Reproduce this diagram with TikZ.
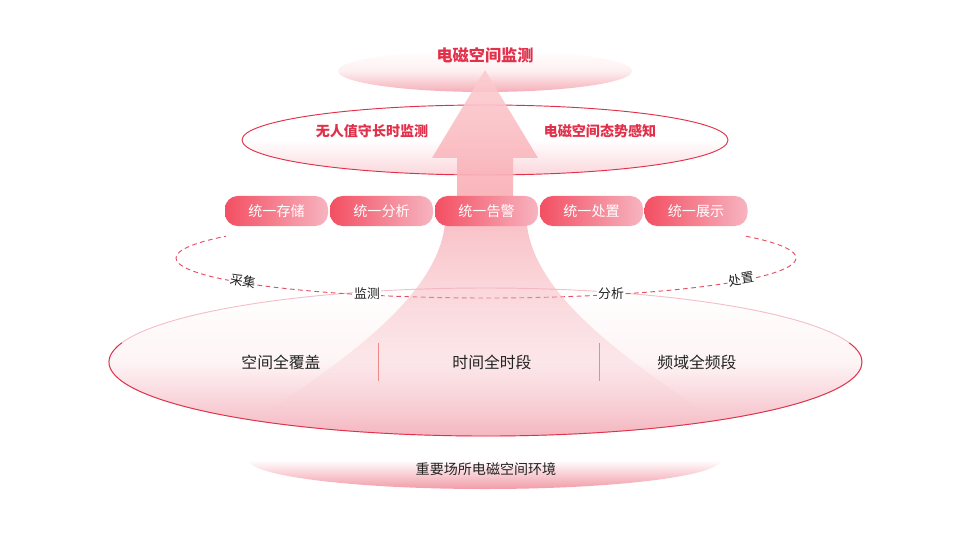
\documentclass[tikz,border=0pt]{standalone}
\usepackage{fontspec}
\setmainfont{Noto Sans CJK SC}
\usetikzlibrary{shapes,fadings}

\definecolor{crimson}{HTML}{E0304A}
\definecolor{pillL}{HTML}{F34F62}
\definecolor{pillR}{HTML}{F7B4C0}
\definecolor{arrowT}{HTML}{FCCDD1}
\definecolor{arrowB}{HTML}{F7A6AD}
\definecolor{flarecol}{HTML}{F6AEB6}
\definecolor{pinkA}{HTML}{F5AFB8}
\definecolor{pinkB}{HTML}{F29AA7}
\definecolor{pinkC}{HTML}{F4B6C0}
\definecolor{rimcol}{HTML}{F4C0C8}
\definecolor{sepcol}{HTML}{F08A8A}
\definecolor{textdark}{HTML}{222222}

\tikzfading[name=flarefade, top color=transparent!25, bottom color=transparent!100]
\tikzfading[name=basefade, top color=transparent!100, bottom color=transparent!0, middle color=transparent!80]
\tikzfading[name=envfade, top color=transparent!100, bottom color=transparent!0, middle color=transparent!100]

\begin{document}
\begin{tikzpicture}[x=0.03cm,y=-0.03cm]
		\tikzstyle{red label} = [text=crimson, font=\bfseries\fontsize{12}{14}\selectfont]
		\tikzstyle{pill} = [rounded corners=0.38cm, minimum width=3.09cm, minimum height=0.9cm, left color=pillL, right color=pillR, text=white, font=\fontsize{12}{14}\selectfont]
		\tikzstyle{ring label} = [fill=white, inner sep=1pt, text=textdark, font=\fontsize{11}{13}\selectfont]
		\tikzstyle{base label} = [text=textdark, font=\fontsize{13.5}{16}\selectfont]
		\tikzstyle{ring} = [crimson!85, dashed, dash pattern=on 4pt off 3pt, line width=0.8pt]
		\tikzstyle{rim} = [line width=0.8pt]

		\useasboundingbox (0,0) rectangle (960,540);

		% environment at the bottom
		\fill[pinkB, path fading=envfade] (485,460) ellipse [x radius=236, y radius=29];
		\node[text=textdark, font=\fontsize{12}{14}\selectfont] (env) at (486,469) {重要场所电磁空间环境};

		% base ellipse
		\shade[top color=white, bottom color=pinkC, middle color=pinkC!15] (485.5,362) ellipse [x radius=376.5, y radius=74];
		\draw[rim, rimcol] (485.5,362) ellipse [x radius=376.5, y radius=74];
		\draw[rim, crimson] ([shift={(195:376.5 and 74)}]485.5,362) arc [start angle=195, end angle=-15, x radius=376.5, y radius=74];

		% dashed cycle
		\draw[ring] ([shift={(-33:310 and 40)}]486,258) arc [start angle=-33, end angle=213, x radius=310, y radius=40];

		% flare under the arrow
		\fill[flarecol, path fading=flarefade] (445,224) .. controls (438,290) and (360,350) .. (270,410) -- (702,410) .. controls (612,350) and (534,290) .. (527,224) -- cycle;

		\node[ring label, rotate=-12] (collect) at (243,281) {采集};
		\node[ring label] (monitor) at (367,294) {监测};
		\node[ring label] (analyse) at (611,294) {分析};
		\node[ring label, rotate=10] (dispose) at (741,279) {处置};

		\node[base label] (space) at (281,362) {空间全覆盖};
		\node[base label] (time) at (492,362) {时间全时段};
		\node[base label] (freq) at (697,362) {频域全频段};
		\draw[sepcol, line width=0.8pt] (378,343) -- (378,381);
		\draw[sepcol, line width=0.8pt] (599,343) -- (599,381);

		% middle ellipse
		\shade[top color=white, bottom color=pinkA!50, middle color=white] (485,140) ellipse [x radius=243, y radius=35];
		\draw[rim, crimson] (485,140) ellipse [x radius=243, y radius=35];
		\node[red label] (unattended) at (372,131) {无人值守长时监测};
		\node[red label] (awareness) at (600,131) {电磁空间态势感知};

		% top ellipse
		\fill[pinkA, path fading=basefade] (485,71) ellipse [x radius=147, y radius=21];
		\node[red label, font=\bfseries\fontsize{13.8}{16}\selectfont] (goal) at (485,55) {电磁空间监测};

		% arrow
		\shade[top color=arrowT, bottom color=arrowB, opacity=0.9] (485,70) -- (538,158) -- (513,158) -- (513,226) -- (457,226) -- (457,158) -- (432,158) -- cycle;

		% unified functions
		\node[pill] (store) at (276.5,211) {统一存储};
		\node[pill] (analysis) at (381.5,211) {统一分析};
		\node[pill] (alarm) at (486.5,211) {统一告警};
		\node[pill] (handle) at (591.5,211) {统一处置};
		\node[pill] (show) at (696,211) {统一展示};

	\end{tikzpicture}
\end{document}
